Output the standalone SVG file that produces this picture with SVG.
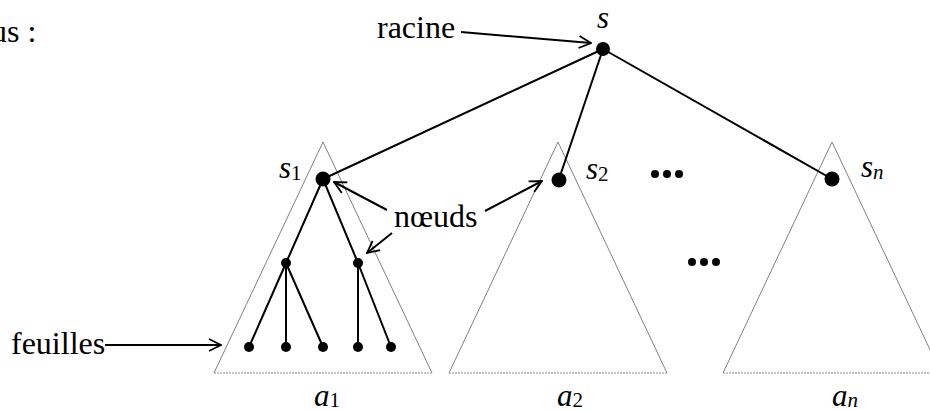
<svg xmlns="http://www.w3.org/2000/svg" width="930" height="410" viewBox="0 0 930 410">
<style>
.tri{fill:none;stroke:#808080;stroke-width:1}
.base{fill:none;stroke:#909090;stroke-width:1;stroke-dasharray:2,1}
.edge{stroke:#000;stroke-width:2;fill:none}
.arr{stroke:#000;stroke-width:2;fill:none;marker-end:url(#open)}
.big{fill:#000}
</style>
<defs>
<marker id="open" viewBox="0 0 14 14" refX="13" refY="7" markerWidth="14" markerHeight="14" markerUnits="userSpaceOnUse" orient="auto">
<path d="M1,1 L13,7 L1,13" fill="none" stroke="#000" stroke-width="1.8"/>
</marker>
</defs>
<rect width="930" height="410" fill="#fff"/>
<g font-family="'Liberation Serif', 'Times New Roman', serif" font-size="32" fill="#000">
<text x="-9" y="42">us :</text>
</g>
<g id="subtree1">
<polyline class="tri" points="214,373 323,142 432,373"/>
<line class="base" x1="214" y1="373" x2="432" y2="373"/>
</g>
<g id="subtree2">
<polyline class="tri" points="449,373 558,142 667,373"/>
<line class="base" x1="449" y1="373" x2="667" y2="373"/>
</g>
<g id="subtreen">
<polyline class="tri" points="723,373 832,142 941,373"/>
<line class="base" x1="723" y1="373" x2="941" y2="373"/>
</g>
<g id="connectors">
<line class="edge" x1="603" y1="49" x2="323" y2="179"/>
<line class="edge" x1="603" y1="49" x2="559" y2="179"/>
<line class="edge" x1="603" y1="49" x2="832" y2="179"/>
<line class="edge" x1="323" y1="179" x2="286" y2="263"/>
<line class="edge" x1="323" y1="179" x2="358" y2="263"/>
<line class="edge" x1="286" y1="263" x2="249" y2="347"/>
<line class="edge" x1="286" y1="263" x2="286" y2="347"/>
<line class="edge" x1="286" y1="263" x2="323" y2="347"/>
<line class="edge" x1="358" y1="263" x2="358" y2="347"/>
<line class="edge" x1="358" y1="263" x2="391" y2="347"/>
<line class="arr" x1="461" y1="32" x2="591" y2="43"/>
<line class="arr" x1="387" y1="210" x2="334" y2="182"/>
<line class="arr" x1="392" y1="233" x2="367" y2="253"/>
<line class="arr" x1="485" y1="211" x2="542" y2="181"/>
<line class="arr" x1="105" y1="345" x2="221" y2="345"/>
</g>
<g font-family="'Liberation Serif', 'Times New Roman', serif" font-size="32" fill="#000">
<g id="root"><circle class="big" cx="603" cy="49" r="7"/><text font-style="italic" font-size="31" x="597" y="28">s</text></g>
<g id="label-racine"><text x="377" y="38">racine</text></g>
<g id="s1"><circle class="big" cx="323" cy="179" r="7.5"/><text font-style="italic" font-size="31" x="279" y="178">s<tspan font-style="normal" font-size="21" dy="2">1</tspan></text></g>
<g id="s2"><circle class="big" cx="559" cy="180" r="7.5"/><text font-style="italic" font-size="31" x="586" y="179">s<tspan font-style="normal" font-size="21" dy="2">2</tspan></text></g>
<g id="sn"><circle class="big" cx="832" cy="179" r="7.5"/><text font-style="italic" font-size="31" x="861" y="177">s<tspan font-size="21" dy="2">n</tspan></text></g>
<g id="n11"><circle class="big" cx="286" cy="263" r="5"/></g>
<g id="n12"><circle class="big" cx="358" cy="263" r="5"/></g>
<g id="leaf1"><circle class="big" cx="249" cy="347" r="5"/></g>
<g id="leaf2"><circle class="big" cx="286" cy="347" r="5"/></g>
<g id="leaf3"><circle class="big" cx="323" cy="347" r="5"/></g>
<g id="leaf4"><circle class="big" cx="358" cy="347" r="5"/></g>
<g id="leaf5"><circle class="big" cx="391" cy="347" r="5"/></g>
<g id="label-noeuds"><text x="394" y="227">nœuds</text></g>
<g id="label-feuilles"><text x="11" y="354">feuilles</text></g>
<g id="dots1"><circle class="big" cx="655" cy="174" r="4"/><circle class="big" cx="667" cy="174" r="4"/><circle class="big" cx="679" cy="174" r="4"/></g>
<g id="dots2"><circle class="big" cx="692" cy="262" r="4"/><circle class="big" cx="704" cy="262" r="4"/><circle class="big" cx="716" cy="262" r="4"/></g>
<g id="label-a1"><text font-style="italic" font-size="31" x="314" y="406">a<tspan font-style="normal" font-size="21" dy="1">1</tspan></text></g>
<g id="label-a2"><text font-style="italic" font-size="31" x="557" y="406">a<tspan font-style="normal" font-size="21" dy="1">2</tspan></text></g>
<g id="label-an"><text font-style="italic" font-size="31" x="832" y="406">a<tspan font-size="21" dy="1">n</tspan></text></g>
</g>
</svg>
